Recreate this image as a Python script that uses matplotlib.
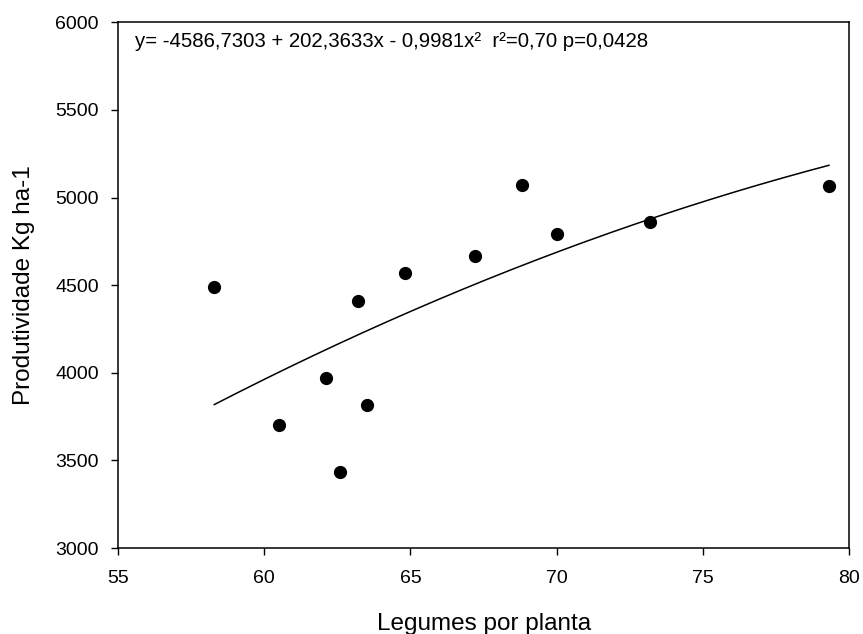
import matplotlib.pyplot as plt
import numpy as np

plt.rcParams['font.family'] = ['Liberation Sans', 'DejaVu Sans']

# Legumes por planta vs produtividade
legumes = [58.3, 60.5, 62.1, 62.6, 63.2, 63.5, 64.8, 67.2, 68.8, 70.0, 73.2, 79.3]
produtividade = [4490, 3700, 3970, 3435, 4410, 3815, 4570, 4668, 5070, 4793, 4858, 5065]

# coeficientes da regressao quadratica
b0, b1, b2 = -4586.7303, 202.3633, -0.9981
equacao = "y= -4586,7303 + 202,3633x - 0,9981x\u00b2  r\u00b2=0,70 p=0,0428"

xticks = [55, 60, 65, 70, 75, 80]
yticks = [3000, 3500, 4000, 4500, 5000, 5500, 6000]

fig = plt.figure(figsize=(8.63, 6.34), dpi=100)
ax = fig.add_axes([0.1364, 0.1356, 0.8479, 0.8292])

xs = np.linspace(min(legumes), max(legumes), 200)
ax.plot(xs, b0 + b1 * xs + b2 * xs ** 2, color='black', linewidth=1.1)
ax.plot(legumes, produtividade, 'o', color='black', markersize=8.5, linestyle='None')

ax.set_xlim(55, 80)
ax.set_ylim(3000, 6000)
ax.set_xticks(xticks)
ax.set_yticks(yticks)
ax.tick_params(direction='out', length=5, width=1.0, labelsize=14,
               top=False, right=False)
ax.tick_params(axis='x', pad=10.5)
ax.tick_params(axis='y', pad=8.5)
for s in ax.spines.values():
    s.set_linewidth(1.1)

ax.set_xlabel('Legumes por planta', fontsize=17.5, labelpad=19)
ax.set_ylabel('Produtividade Kg ha-1', fontsize=17.5, labelpad=15)

ax.text(0.0236, 0.9536, equacao, transform=ax.transAxes, fontsize=14.7,
        va='baseline', ha='left')

fig.savefig('out.png', dpi=100)
